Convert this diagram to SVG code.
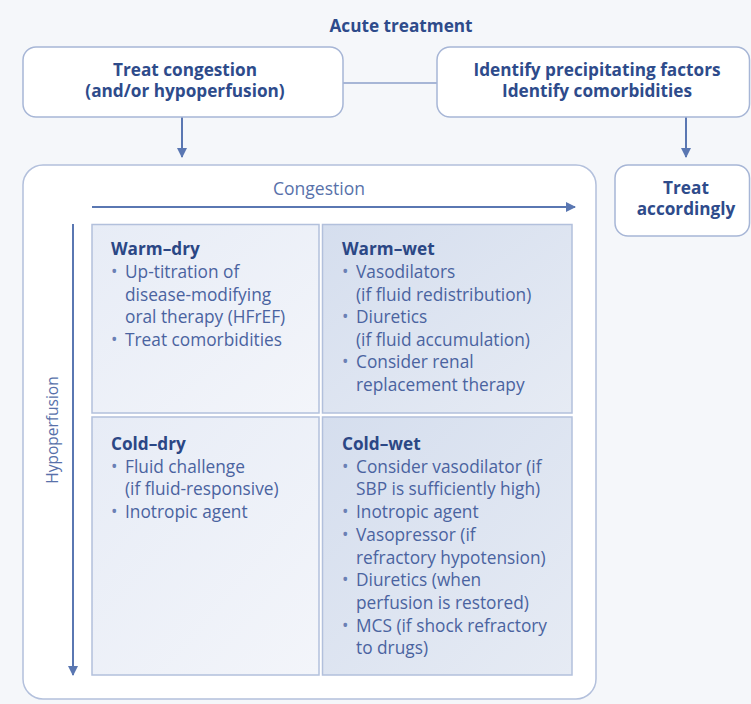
<svg xmlns="http://www.w3.org/2000/svg" width="751" height="704" viewBox="0 0 751 704">
<defs>
<style>
.bg{fill:#f5f7fa}
.box{fill:#ffffff;stroke:#a7b6d6;stroke-width:1.5}
.cont{fill:#ffffff;stroke:#b3c0dc;stroke-width:1.5}
.ttl{font-family:"Open Sans","Liberation Sans",sans-serif;font-weight:700;font-size:17.2px;fill:#2e4b8b;text-anchor:middle}
.axis{font-family:"Open Sans","Liberation Sans",sans-serif;font-size:17.5px;fill:#5871aa;text-anchor:middle}
.hd{font-family:"Open Sans","Liberation Sans",sans-serif;font-weight:700;font-size:17.2px;fill:#2b4785}
.bd{font-family:"Open Sans","Liberation Sans",sans-serif;font-size:17.3px;fill:#4a63a0}
.bul{fill:#6a80b5}
.ln{stroke:#5a77b2;stroke-width:2;fill:none}
.ln2{stroke:#a7b6d6;stroke-width:2;fill:none}
.q{stroke:#b2c0dc;stroke-width:1.5}
</style>
<linearGradient id="gl" x1="0" y1="0" x2="1" y2="1">
<stop offset="0" stop-color="#e7ecf6"/>
<stop offset="1" stop-color="#f3f5fa"/>
</linearGradient>
<linearGradient id="gr" x1="0" y1="0" x2="1" y2="1">
<stop offset="0" stop-color="#d5deee"/>
<stop offset="1" stop-color="#e6ebf4"/>
</linearGradient>
<marker id="ah" viewBox="0 0 10 10" refX="9" refY="5" markerWidth="5" markerHeight="5" orient="auto" markerUnits="strokeWidth">
<path d="M0,0 L10,5 L0,10 z" fill="#5a77b2"/>
</marker>
</defs>
<rect class="bg" x="0" y="0" width="751" height="704"/>

<text class="ttl" x="401" y="32">Acute treatment</text>

<g id="connectors">
<line class="ln2" x1="343" y1="83" x2="437" y2="83"/>
<line class="ln" x1="182" y1="117" x2="182" y2="157" marker-end="url(#ah)"/>
<line class="ln" x1="686" y1="117" x2="686" y2="157" marker-end="url(#ah)"/>
</g>

<g id="treat-congestion">
<rect class="box" x="23" y="47" width="320" height="70" rx="13"/>
<text class="ttl" x="185" y="76">Treat congestion</text>
<text class="ttl" x="185" y="97">(and/or hypoperfusion)</text>
</g>

<g id="identify">
<rect class="box" x="437" y="47" width="312.5" height="70" rx="13"/>
<text class="ttl" x="597" y="76">Identify precipitating factors</text>
<text class="ttl" x="597" y="97">Identify comorbidities</text>
</g>

<g id="treat-accordingly">
<rect class="box" x="615" y="165" width="134.5" height="71" rx="13"/>
<text class="ttl" x="686" y="194">Treat</text>
<text class="ttl" x="686" y="215">accordingly</text>
</g>

<g id="matrix">
<rect class="cont" x="23" y="165" width="573" height="534" rx="20"/>
<text class="axis" x="319" y="195">Congestion</text>
<line class="ln" x1="92" y1="207" x2="575" y2="207" marker-end="url(#ah)"/>
<line class="ln" x1="73" y1="224" x2="73" y2="675" marker-end="url(#ah)"/>
<text class="axis" style="font-size:15.5px" transform="translate(58,430) rotate(-90)">Hypoperfusion</text>
</g>

<g id="warm-dry">
<rect class="q" x="92" y="224.5" width="227" height="188.5" fill="url(#gl)"/>
<text class="hd" x="111" y="255">Warm–dry</text>
<text class="bd"><tspan class="bul" x="111" y="278">•</tspan><tspan x="125" y="278">Up-titration of</tspan></text>
<text class="bd" x="125" y="301">disease-modifying</text>
<text class="bd" x="125" y="323">oral therapy (HFrEF)</text>
<text class="bd"><tspan class="bul" x="111" y="346">•</tspan><tspan x="125" y="346">Treat comorbidities</tspan></text>
</g>

<g id="warm-wet">
<rect class="q" x="322.5" y="224.5" width="249.5" height="188.5" fill="url(#gr)"/>
<text class="hd" x="342" y="255">Warm–wet</text>
<text class="bd"><tspan class="bul" x="342" y="278">•</tspan><tspan x="356" y="278">Vasodilators</tspan></text>
<text class="bd" x="356" y="301">(if fluid redistribution)</text>
<text class="bd"><tspan class="bul" x="342" y="323">•</tspan><tspan x="356" y="323">Diuretics</tspan></text>
<text class="bd" x="356" y="346">(if fluid accumulation)</text>
<text class="bd"><tspan class="bul" x="342" y="368">•</tspan><tspan x="356" y="368">Consider renal</tspan></text>
<text class="bd" x="356" y="391">replacement therapy</text>
</g>

<g id="cold-dry">
<rect class="q" x="92" y="417" width="227" height="258" fill="url(#gl)"/>
<text class="hd" x="111" y="450">Cold–dry</text>
<text class="bd"><tspan class="bul" x="111" y="473">•</tspan><tspan x="125" y="473">Fluid challenge</tspan></text>
<text class="bd" x="125" y="495">(if fluid-responsive)</text>
<text class="bd"><tspan class="bul" x="111" y="518">•</tspan><tspan x="125" y="518">Inotropic agent</tspan></text>
</g>

<g id="cold-wet">
<rect class="q" x="322.5" y="417" width="249.5" height="258" fill="url(#gr)"/>
<text class="hd" x="342" y="450">Cold–wet</text>
<text class="bd"><tspan class="bul" x="342" y="473">•</tspan><tspan x="356" y="473">Consider vasodilator (if</tspan></text>
<text class="bd" x="356" y="495">SBP is sufficiently high)</text>
<text class="bd"><tspan class="bul" x="342" y="518">•</tspan><tspan x="356" y="518">Inotropic agent</tspan></text>
<text class="bd"><tspan class="bul" x="342" y="541">•</tspan><tspan x="356" y="541">Vasopressor (if</tspan></text>
<text class="bd" x="356" y="564">refractory hypotension)</text>
<text class="bd"><tspan class="bul" x="342" y="586">•</tspan><tspan x="356" y="586">Diuretics (when</tspan></text>
<text class="bd" x="356" y="609">perfusion is restored)</text>
<text class="bd"><tspan class="bul" x="342" y="632">•</tspan><tspan x="356" y="632">MCS (if shock refractory</tspan></text>
<text class="bd" x="356" y="654">to drugs)</text>
</g>
</svg>
